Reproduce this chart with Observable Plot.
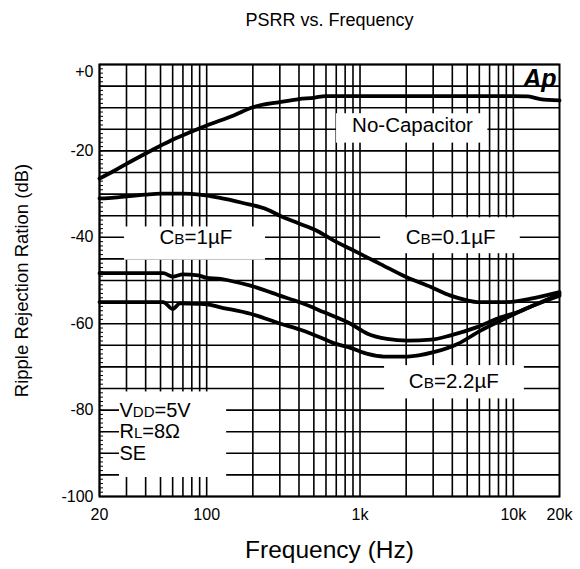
<!DOCTYPE html>
<html><head><meta charset="utf-8">
<script src="https://cdn.jsdelivr.net/npm/d3@7"></script>
<script src="https://cdn.jsdelivr.net/npm/@observablehq/plot@0.6"></script>
<style>body{margin:0;background:#fff;} #chart svg{font-family:"Liberation Sans",Arial,sans-serif;}</style>
</head><body><div id="chart"></div>
<script>
// ---- data ----
const noCapFreq = [20, 25, 30, 40, 50, 60, 70, 80, 100, 150, 200, 300, 400, 500, 600, 1000, 2000, 5000, 10000, 12500, 15000, 20000];
const noCapDb   = [-26.4, -24.6, -23.0, -20.6, -18.8, -17.4, -16.4, -15.5, -14.1, -11.8, -9.9, -8.7, -8.0, -7.7, -7.3, -7.3, -7.3, -7.3, -7.3, -7.4, -8.0, -8.3];

const cb01Freq = [20, 25, 30, 40, 50, 70, 90, 120, 170, 250, 300, 400, 530, 670, 870, 1120, 1360, 2000, 2900, 3900, 5000, 5800, 9000, 13000, 20000];
const cb01Db   = [-31.0, -30.8, -30.5, -30.1, -29.9, -29.9, -30.1, -30.8, -32.0, -33.6, -35.0, -36.8, -38.6, -40.7, -42.7, -44.7, -46.2, -49.2, -51.5, -53.5, -54.6, -55.0, -55.0, -54.2, -52.7];

const cb1Freq = [20, 30, 40, 52, 60, 70, 88, 100, 123, 140, 193, 300, 409, 578, 867, 1120, 1500, 2040, 2900, 3900, 5800, 8260, 10700, 13500, 20000];
const cb1Db   = [-48.3, -48.3, -48.3, -48.3, -49.1, -48.6, -48.8, -49.4, -49.6, -50.0, -51.2, -53.5, -55.1, -57.3, -60.0, -62.3, -63.5, -63.9, -63.7, -62.7, -60.8, -58.5, -57.3, -55.8, -53.1];

const cb22Freq = [20, 30, 40, 52, 60, 67, 88, 100, 123, 193, 303, 409, 578, 672, 867, 1120, 1425, 2040, 3020, 4330, 6110, 8260, 13500, 20000];
const cb22Db   = [-55.0, -55.0, -55.0, -55.0, -56.6, -55.3, -55.4, -55.5, -56.2, -57.7, -60.0, -61.4, -63.5, -64.5, -65.6, -67.0, -67.6, -67.6, -66.6, -64.7, -61.6, -59.3, -55.8, -53.5];

const seriesNames = ["No-Capacitor", "CB=0.1µF", "CB=1µF", "CB=2.2µF"];
const seriesFreqs = [noCapFreq, cb01Freq, cb1Freq, cb22Freq];
const seriesDbs   = [noCapDb, cb01Db, cb1Db, cb22Db];

// curve labels and their white boxes
const labelTexts = ["No-Capacitor", "CB=0.1µF", "CB=1µF", "CB=2.2µF"];
const labelFreq  = [2200, 3900, 85, 4090];
const labelDb    = [-14, -40, -40, -73.3];
const boxFreq1   = [703, 1362, 29.1, 1446];
const boxFreq2   = [6824, 11100, 242, 11800];
const boxDb1     = [-11.4, -35.5, -37.6, -69.7];
const boxDb2     = [-18.2, -43.8, -45.3, -77.4];

// test conditions
const condTexts = ["VDD=5V", "RL=8Ω", "SE"];
const condFreq  = [27, 27, 27];
const condDb    = [-80, -85, -90];
const condBoxFreq = [27, 135];
const condBoxDb   = [-75.8, -95.6];

// axes
const xTickValues = [20, 100, 1000, 10000, 20000];
const xTickLabels = ["20", "100", "1k", "10k", "20k"];
const yTickValues = [0, -20, -40, -60, -80, -100];
const yTickLabels = ["+0", "-20", "-40", "-60", "-80", "-100"];
const xGrid = [20, 30, 40, 50, 60, 70, 80, 90, 100, 200, 300, 400, 500, 600, 700, 800, 900,
               1000, 2000, 3000, 4000, 5000, 6000, 7000, 8000, 9000, 10000];
const yGrid = [0, -5, -10, -15, -20, -25, -30, -35, -40, -45, -50, -55, -60, -65, -70, -75, -80, -85, -90, -95, -100];
const yMinor = d3.range(-100, 1, 1);

const subParts = {
  "CB=0.1µF": ["C", "B", "=0.1µF"],
  "CB=1µF": ["C", "B", "=1µF"],
  "CB=2.2µF": ["C", "B", "=2.2µF"],
  "VDD=5V": ["V", "DD", "=5V"],
  "RL=8Ω": ["R", "L", "=8Ω"]
};

// ---- build tables ----
const rows = seriesNames.flatMap((name, s) => seriesFreqs[s].map((f, i) => ({series: name, freq: f, db: seriesDbs[s][i]})));
const labels = labelTexts.map((t, i) => ({text: t, freq: labelFreq[i], db: labelDb[i], f1: boxFreq1[i], f2: boxFreq2[i], d1: boxDb1[i], d2: boxDb2[i]}));
const conds = condTexts.map((t, i) => ({text: t, freq: condFreq[i], db: condDb[i]}));
const condBox = [{f1: condBoxFreq[0], f2: condBoxFreq[1], d1: condBoxDb[0], d2: condBoxDb[1]}];

const plot = Plot.plot({
  width: 580,
  height: 569,
  marginLeft: 99,
  marginRight: 21,
  marginTop: 64,
  marginBottom: 73,
  style: {fontFamily: "Liberation Sans, Arial, sans-serif", background: "white", color: "black"},
  x: {type: "log", domain: [20, 20000]},
  y: {domain: [-100, 0]},
  marks: [
    Plot.ruleX(xGrid, {x: d => d, stroke: "black", strokeWidth: 1.6}),
    Plot.ruleY(yGrid, {y: d => d, stroke: "black", strokeWidth: 1.6}),
    Plot.tickY(yMinor, {y: d => d, insetRight: 456, stroke: "black", strokeWidth: 1}),
    Plot.rect(labels, {x1: "f1", x2: "f2", y1: "d1", y2: "d2", fill: "white"}),
    Plot.rect(condBox, {x1: "f1", x2: "f2", y1: "d1", y2: "d2", fill: "white"}),
    Plot.text(labels, {x: "freq", y: "db", text: "text", fontSize: 20.5, fill: "black"}),
    Plot.text(conds, {x: "freq", y: "db", text: "text", fontSize: 20, fill: "black", textAnchor: "start"}),
    Plot.line(rows, {x: "freq", y: "db", z: "series", stroke: "black", strokeWidth: 3.8, curve: "monotone-x", strokeLinejoin: "round"}),
    Plot.frame({stroke: "black", strokeWidth: 2}),
    Plot.axisX({ticks: xTickValues, tickFormat: d => xTickLabels[xTickValues.indexOf(d)], tickSize: 0, tickPadding: 12, fontSize: 16, label: null}),
    Plot.axisY({ticks: yTickValues, tickFormat: d => yTickLabels[yTickValues.indexOf(d)], tickSize: 0, tickPadding: 6, fontSize: 16, label: null}),
    Plot.text(["PSRR vs. Frequency"], {text: d => d, frameAnchor: "top", lineAnchor: "middle", dy: -44, fontSize: 18, fill: "black"}),
    Plot.text(["Frequency (Hz)"], {text: d => d, frameAnchor: "bottom", lineAnchor: "middle", dy: 54, fontSize: 24.5, fill: "black"}),
    Plot.text(["Ripple Rejection Ration (dB)"], {text: d => d, frameAnchor: "left", textAnchor: "middle", lineAnchor: "middle", dx: -77, rotate: -90, fontSize: 18.5, fill: "black"}),
    Plot.text(["Ap"], {text: d => d, frameAnchor: "top-right", lineAnchor: "middle", dx: -3, dy: 14, textAnchor: "end", fontSize: 25, fontWeight: "bold", fontStyle: "italic", fill: "black", letterSpacing: -1.5})
  ]
});

// small-letter subscripts (e.g. C_B, V_DD, R_L) and the "+0" label sitting a little low
d3.select(plot).selectAll("text").each(function() {
  if (this.textContent === "+0") { this.setAttribute("dy", "7"); return; }
  const parts = subParts[this.textContent];
  if (!parts) return;
  const t = d3.select(this);
  t.text(null);
  t.append("tspan").text(parts[0]);
  t.append("tspan").attr("font-size", "75%").text(parts[1]);
  t.append("tspan").text(parts[2]);
});

document.getElementById("chart").appendChild(plot);
</script>
</body></html>
